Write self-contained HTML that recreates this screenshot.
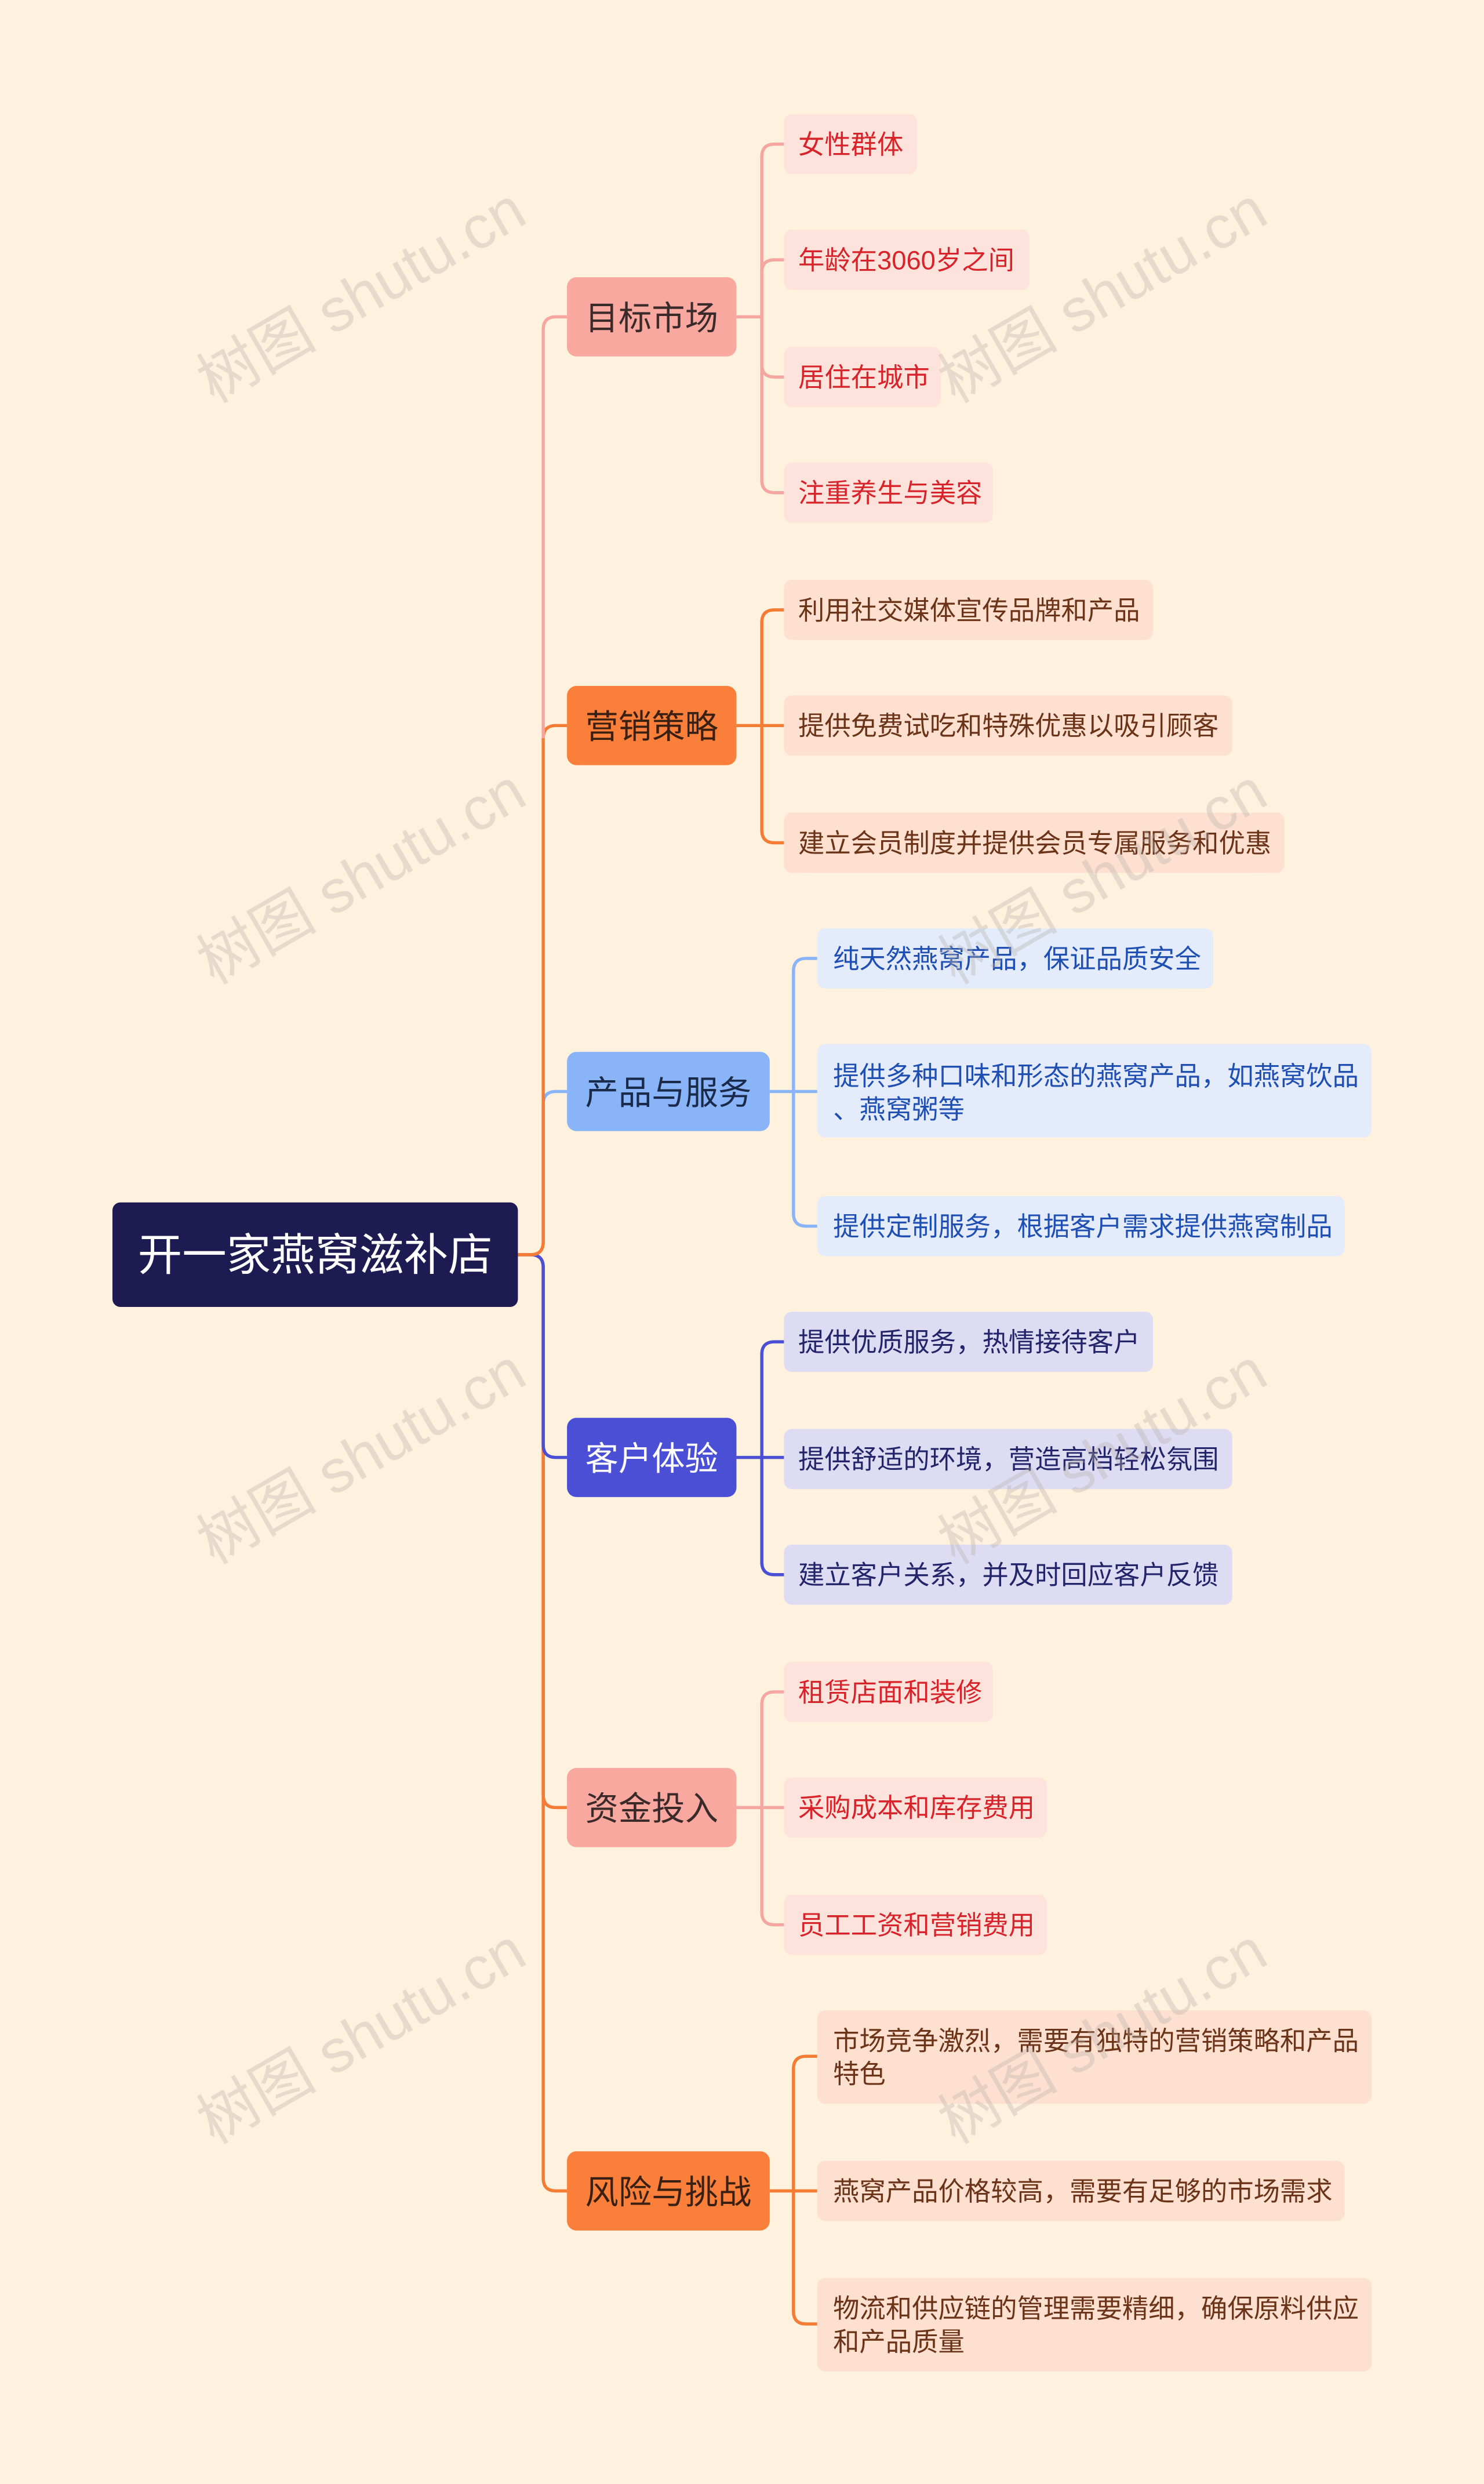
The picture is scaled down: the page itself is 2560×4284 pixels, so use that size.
<!DOCTYPE html>
<html><head><meta charset="utf-8"><style>
html,body{margin:0;padding:0;background:#fef1dd;}
svg{display:block;}
text{font-family:"Liberation Sans","Noto Sans CJK SC",sans-serif;}
</style></head><body>
<svg width="2560" height="4284" viewBox="0 0 937 1568" xmlns="http://www.w3.org/2000/svg">
<rect width="937" height="1568" fill="#fef1dd"/>
<g fill="none" stroke-width="2">
<path d="M327 792 H335 Q343 792 343 800 V1375 Q343 1383 351 1383 H358" stroke="#f57c35"/>
<path d="M327 792 H335 Q343 792 343 800 V1133 Q343 1141 351 1141 H358" stroke="#f57c35"/>
<path d="M327 792 H335 Q343 792 343 800 V912 Q343 920 351 920 H358" stroke="#4a4fd6"/>
<path d="M327 792 H335 Q343 792 343 784 V697 Q343 689 351 689 H358" stroke="#8ab4f8"/>
<path d="M327 792 H335 Q343 792 343 784 V466 Q343 458 351 458 H358" stroke="#f57c35"/>
<path d="M343 466 V208 Q343 200 351 200 H358" stroke="#f6a6a0"/>
<g stroke="#f6a6a0">
<path d="M465 200 H481"/>
<path d="M481 200 V99 Q481 91 489 91 H495"/>
<path d="M481 200 V172 Q481 164 489 164 H495"/>
<path d="M481 200 V230 Q481 238 489 238 H495"/>
<path d="M481 200 V303 Q481 311 489 311 H495"/>
</g>
<g stroke="#f57c35">
<path d="M465 458 H481"/>
<path d="M481 458 V393 Q481 385 489 385 H495"/>
<path d="M481 458 H495"/>
<path d="M481 458 V524 Q481 532 489 532 H495"/>
</g>
<g stroke="#8ab4f8">
<path d="M486 689 H501"/>
<path d="M501 689 V613 Q501 605 509 605 H516"/>
<path d="M501 689 H516"/>
<path d="M501 689 V766 Q501 774 509 774 H516"/>
</g>
<g stroke="#4a4fd6">
<path d="M465 920 H481"/>
<path d="M481 920 V855 Q481 847 489 847 H495"/>
<path d="M481 920 H495"/>
<path d="M481 920 V986 Q481 994 489 994 H495"/>
</g>
<g stroke="#f6a6a0">
<path d="M465 1141 H481"/>
<path d="M481 1141 V1076 Q481 1068 489 1068 H495"/>
<path d="M481 1141 H495"/>
<path d="M481 1141 V1207 Q481 1215 489 1215 H495"/>
</g>
<g stroke="#f57c35">
<path d="M486 1383 H501"/>
<path d="M501 1383 V1306 Q501 1298 509 1298 H516"/>
<path d="M501 1383 H516"/>
<path d="M501 1383 V1459 Q501 1467 509 1467 H516"/>
</g>
</g>
<!-- root -->
<rect x="71" y="759" width="256" height="66" rx="5" fill="#1e1a52"/>
<text x="199" y="802" font-size="28" fill="#fff" text-anchor="middle">开一家燕窝滋补店</text>
<g font-size="21">
<rect x="358" y="175" width="107" height="50" rx="6" fill="#f9a8a0"/><text x="411.5" y="208" text-anchor="middle" fill="#3a2a2a">目标市场</text>
<rect x="358" y="433" width="107" height="50" rx="6" fill="#f97f3a"/><text x="411.5" y="466" text-anchor="middle" fill="#3a2012">营销策略</text>
<rect x="358" y="664" width="128" height="50" rx="6" fill="#8ab4f8"/><text x="422" y="697" text-anchor="middle" fill="#1a2a4a">产品与服务</text>
<rect x="358" y="895" width="107" height="50" rx="6" fill="#4a4fd6"/><text x="411.5" y="928" text-anchor="middle" fill="#fff">客户体验</text>
<rect x="358" y="1116" width="107" height="50" rx="6" fill="#f9a8a0"/><text x="411.5" y="1149" text-anchor="middle" fill="#3a2a2a">资金投入</text>
<rect x="358" y="1358" width="128" height="50" rx="6" fill="#f97f3a"/><text x="422" y="1391" text-anchor="middle" fill="#3a2012">风险与挑战</text>
</g>
<g font-size="16.6">
<g fill="#fde3dc"><rect x="495" y="72" width="84" height="38" rx="5"/><rect x="495" y="145" width="155" height="38" rx="5"/><rect x="495" y="219" width="99" height="38" rx="5"/><rect x="495" y="292" width="132" height="38" rx="5"/>
<rect x="495" y="1049" width="132" height="38" rx="5"/><rect x="495" y="1122" width="166" height="38" rx="5"/><rect x="495" y="1196" width="166" height="38" rx="5"/></g>
<g fill="#d8232a"><text x="504" y="97">女性群体</text><text x="504" y="170">年龄在3060岁之间</text><text x="504" y="244">居住在城市</text><text x="504" y="317">注重养生与美容</text>
<text x="504" y="1074">租赁店面和装修</text><text x="504" y="1147">采购成本和库存费用</text><text x="504" y="1221">员工工资和营销费用</text></g>
<g fill="#fde0cf"><rect x="495" y="366" width="233" height="38" rx="5"/><rect x="495" y="439" width="283" height="38" rx="5"/><rect x="495" y="513" width="316" height="38" rx="5"/>
<rect x="516" y="1269" width="350" height="59" rx="5"/><rect x="516" y="1364" width="333" height="38" rx="5"/><rect x="516" y="1438" width="350" height="59" rx="5"/></g>
<g fill="#6b3318"><text x="504" y="391">利用社交媒体宣传品牌和产品</text><text x="504" y="464">提供免费试吃和特殊优惠以吸引顾客</text><text x="504" y="538">建立会员制度并提供会员专属服务和优惠</text>
<text x="526" y="1294">市场竞争激烈，需要有独特的营销策略和产品</text><text x="526" y="1315">特色</text><text x="526" y="1389">燕窝产品价格较高，需要有足够的市场需求</text><text x="526" y="1463">物流和供应链的管理需要精细，确保原料供应</text><text x="526" y="1484">和产品质量</text></g>
<g fill="#e4ecfb"><rect x="516" y="586" width="250" height="38" rx="5"/><rect x="516" y="659" width="350" height="59" rx="5"/><rect x="516" y="755" width="333" height="38" rx="5"/></g>
<g fill="#1f4fb3"><text x="526" y="611">纯天然燕窝产品，保证品质安全</text><text x="526" y="685">提供多种口味和形态的燕窝产品，如燕窝饮品</text><text x="526" y="706">、燕窝粥等</text><text x="526" y="780">提供定制服务，根据客户需求提供燕窝制品</text></g>
<g fill="#dddcf3"><rect x="495" y="828" width="233" height="38" rx="5"/><rect x="495" y="902" width="283" height="38" rx="5"/><rect x="495" y="975" width="283" height="38" rx="5"/></g>
<g fill="#24246a"><text x="504" y="853">提供优质服务，热情接待客户</text><text x="504" y="927">提供舒适的环境，营造高档轻松氛围</text><text x="504" y="1000">建立客户关系，并及时回应客户反馈</text></g>
</g>
<g fill="#b8b0a8" opacity="0.35" font-size="38">
<text transform="translate(135,255) rotate(-30)">树图 shutu.cn</text>
<text transform="translate(603,255) rotate(-30)">树图 shutu.cn</text>
<text transform="translate(135,622) rotate(-30)">树图 shutu.cn</text>
<text transform="translate(603,622) rotate(-30)">树图 shutu.cn</text>
<text transform="translate(135,988) rotate(-30)">树图 shutu.cn</text>
<text transform="translate(603,988) rotate(-30)">树图 shutu.cn</text>
<text transform="translate(135,1354) rotate(-30)">树图 shutu.cn</text>
<text transform="translate(603,1354) rotate(-30)">树图 shutu.cn</text>
</g>
</svg>
</body></html>
